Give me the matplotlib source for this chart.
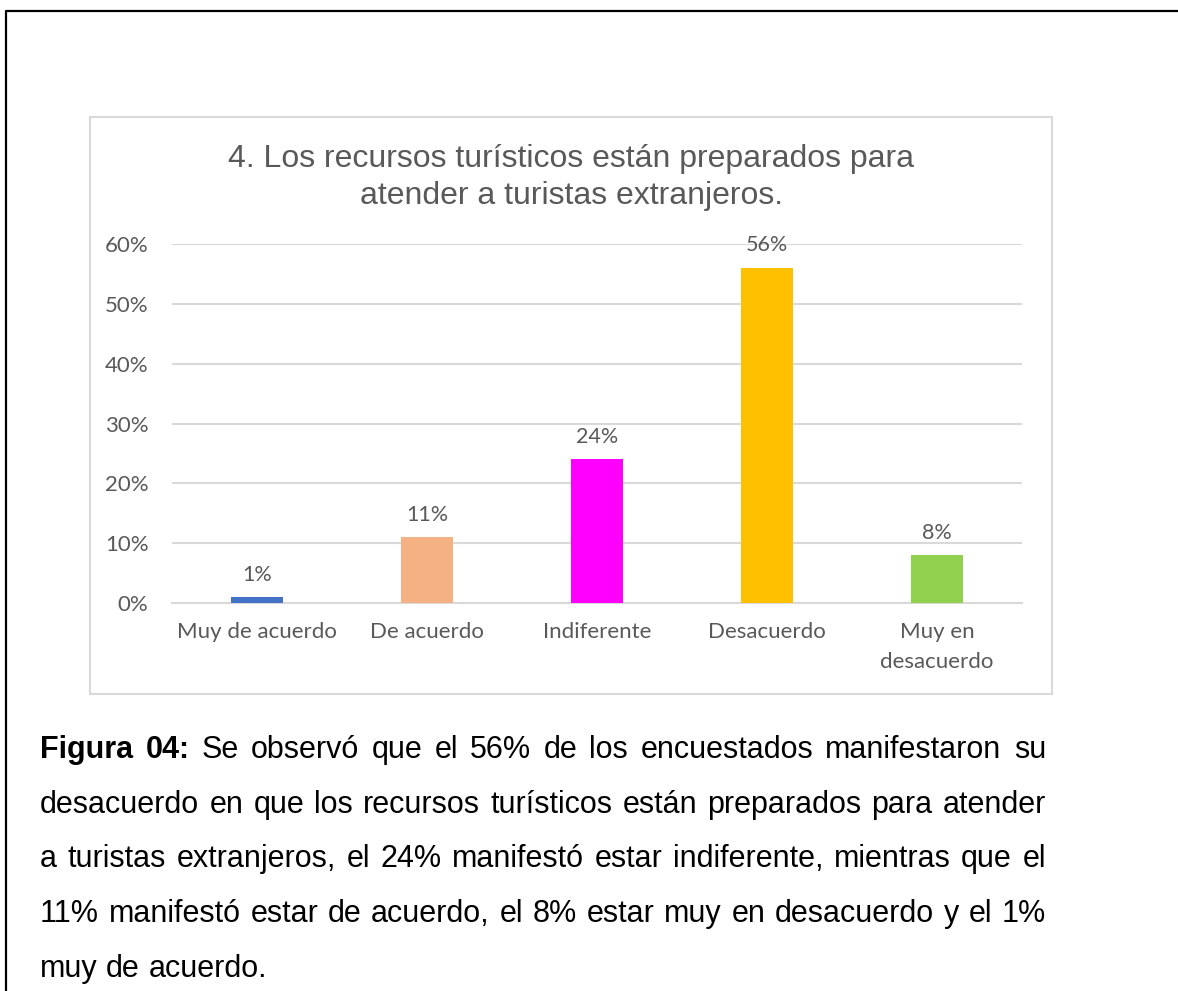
import matplotlib
matplotlib.use("Agg")
import matplotlib.pyplot as plt
from matplotlib.patches import Rectangle
from matplotlib.lines import Line2D
from matplotlib.ticker import PercentFormatter

# chart data
categories = ["Muy de acuerdo", "De acuerdo", "Indiferente", "Desacuerdo", "Muy en\ndesacuerdo"]
values = [1, 11, 24, 56, 8]
bar_colors = ["#4472C4", "#F4B183", "#FF00FF", "#FFC000", "#92D050"]
y_ticks = [0, 10, 20, 30, 40, 50, 60]

title_text = "4. Los recursos turísticos están preparados para\natender a turistas extranjeros."

# caption lines, already broken as in the document
caption_lines = [
    "Figura 04: Se observó que el 56% de los encuestados manifestaron su",
    "desacuerdo en que los recursos turísticos están preparados para atender",
    "a turistas extranjeros, el 24% manifestó estar indiferente, mientras que el",
    "11% manifestó estar de acuerdo, el 8% estar muy en desacuerdo y el 1%",
    "muy de acuerdo.",
]

W, H = 1178, 991
GRAY = "#595959"
GRID = "#D9D9D9"
chart_font = "Lato"
caption_font = "Liberation Sans"

fig = plt.figure(figsize=(W / 100, H / 100), dpi=100)


def fx(px):
    return px / W


def fy(py):
    return 1 - py / H


# outer page frame (top and left edges only visible)
fig.add_artist(Line2D([fx(6), fx(6), fx(W)], [fy(H), fy(11), fy(11)],
                      color="black", lw=1.6, transform=fig.transFigure))

# chart area border
fig.add_artist(Rectangle((fx(90), fy(694)), fx(1052) - fx(90), fy(117) - fy(694),
                         facecolor="white", edgecolor=GRID, lw=1.5,
                         transform=fig.transFigure, zorder=0))

# plot area
ax = fig.add_axes([fx(172), fy(603), fx(1022) - fx(172), fy(244) - fy(603)])
x = range(len(categories))
ax.bar(x, values, width=0.31, color=bar_colors, zorder=3)
ax.set_xlim(-0.5, len(categories) - 0.5)
ax.set_ylim(0, 60)
ax.set_yticks(y_ticks)
ax.yaxis.set_major_formatter(PercentFormatter(decimals=0))
ax.set_xticks(list(x))
ax.set_xticklabels(categories, linespacing=1.6)
ax.grid(axis="y", color=GRID, lw=1.5, zorder=0)
for s in ["top", "right", "left"]:
    ax.spines[s].set_visible(False)
ax.spines["bottom"].set_color(GRID)
ax.spines["bottom"].set_linewidth(1.5)
ax.tick_params(length=0, colors=GRAY, labelsize=16)
ax.tick_params(axis="y", pad=17)
ax.tick_params(axis="x", pad=14)
for lab in ax.get_xticklabels() + ax.get_yticklabels():
    lab.set_fontfamily(chart_font)

for i, v in enumerate(values):
    ax.annotate(f"{v}%", (i, v), xytext=(0, 9), textcoords="offset points",
                ha="center", va="bottom", color=GRAY, fontsize=15.5,
                family=chart_font)

# chart title (anchored on the baseline of its second line)
fig.text(fx(571), fy(204), title_text, ha="center", va="baseline",
         fontsize=23, color=GRAY, family=caption_font, linespacing=1.3)

# caption, justified by hand
renderer = fig.canvas.get_renderer()
left, right = 40, 1046
base0, step = 758, 54.7


def word_width(word, weight, size):
    t = fig.text(0, 0, word, fontsize=size, family=caption_font, weight=weight)
    w = t.get_window_extent(renderer).width
    t.remove()
    return w


def line_words(n, line):
    words = line.split(" ")
    weights = ["bold" if (n == 0 and k < 2) else "normal" for k in range(len(words))]
    return words, weights


# pick the font size so the widest line just fits with normal spacing
probe = 20
probe_space = word_width("a a", "normal", probe) - 2 * word_width("a", "normal", probe)
widest = 0
for n, line in enumerate(caption_lines):
    words, weights = line_words(n, line)
    natural = sum(word_width(w, wt, probe) for w, wt in zip(words, weights))
    natural += probe_space * (len(words) - 1)
    widest = max(widest, natural)
cap_size = probe * (right - left) / widest * 0.985

space_w = word_width("a a", "normal", cap_size) - 2 * word_width("a", "normal", cap_size)

for n, line in enumerate(caption_lines):
    words, weights = line_words(n, line)
    widths = [word_width(w, wt, cap_size) for w, wt in zip(words, weights)]
    last = n == len(caption_lines) - 1
    if last:
        gap = space_w
    else:
        gap = (right - left - sum(widths)) / (len(words) - 1)
    xpos = left
    for w, wt, ww in zip(words, weights, widths):
        fig.text(fx(xpos), fy(base0 + n * step), w, fontsize=cap_size,
                 family=caption_font, weight=wt, va="baseline", color="black")
        xpos += ww + gap

fig.savefig("out.png", dpi=100)
